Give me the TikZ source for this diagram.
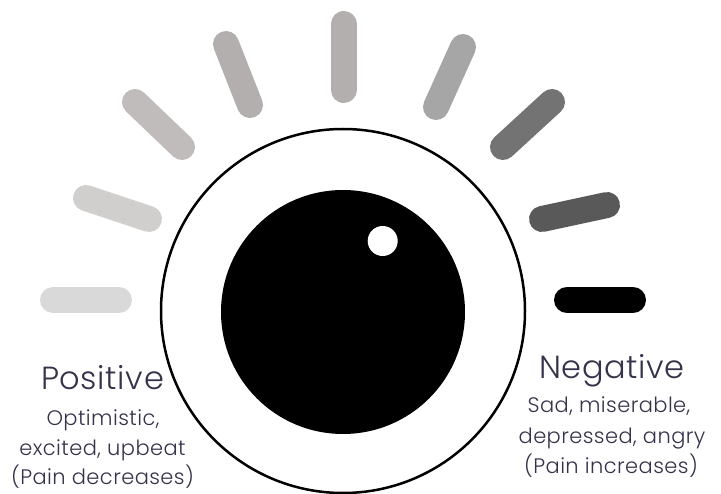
\documentclass[tikz,border=0pt]{standalone}
\usepackage{fontspec}
\setmainfont{Poppins Light}[LetterSpace=2]
\definecolor{inkt}{HTML}{35334A}
\definecolor{b1}{HTML}{D9D9D9}
\definecolor{b2}{HTML}{D1CECE}
\definecolor{b3}{HTML}{C1BCBC}
\definecolor{b4}{HTML}{B4AFAF}
\definecolor{b6}{HTML}{A6A6A6}
\definecolor{b7}{HTML}{737373}
\definecolor{b8}{HTML}{595959}
\tikzset{
  ray/.style={line width=26pt,line cap=round},
  headtext/.style={anchor=base,inner sep=0pt,text=inkt,font=\fontsize{32}{38}\selectfont},
  subtext/.style={anchor=base,inner sep=0pt,text=inkt,font=\fontsize{21}{26}\selectfont}
}
\begin{document}
\begin{tikzpicture}[x=1pt,y=-1pt]
\useasboundingbox (0,0) rectangle (721,494);
\draw[ray,b1] (53,300) -- (119,300);
\draw[ray,b2] (86,198) -- (149,219);
\draw[ray,b3] (135,102) -- (182,147);
\draw[ray,b4] (226,44) -- (250,105);
\draw[ray,b4] (343.5,24) -- (343.5,90);
\draw[ray,b6] (463,47) -- (436,107);
\draw[ray,b7] (552,102) -- (503,147);
\draw[ray,b8] (607,205) -- (542,219);
\draw[ray,black] (567,300) -- (633,300);
\draw[black,line width=2.5pt] (343,311) circle[radius=182];
\fill[black] (343,312) circle[radius=122];
\fill[white] (382.7,241) circle[radius=15];
\node[headtext] (pos) at (102.5,390) {Positive};
\node[subtext] (pos1) at (103,426) {Optimistic,};
\node[subtext] (pos2) at (102.5,456) {excited, upbeat};
\node[subtext] (pos3) at (102.5,485) {(Pain decreases)};
\node[headtext] (neg) at (612,379) {Negative};
\node[subtext] (neg1) at (609,413) {Sad, miserable,};
\node[subtext] (neg2) at (612,444) {depressed, angry};
\node[subtext] (neg3) at (611,474) {(Pain increases)};
\end{tikzpicture}
\end{document}
